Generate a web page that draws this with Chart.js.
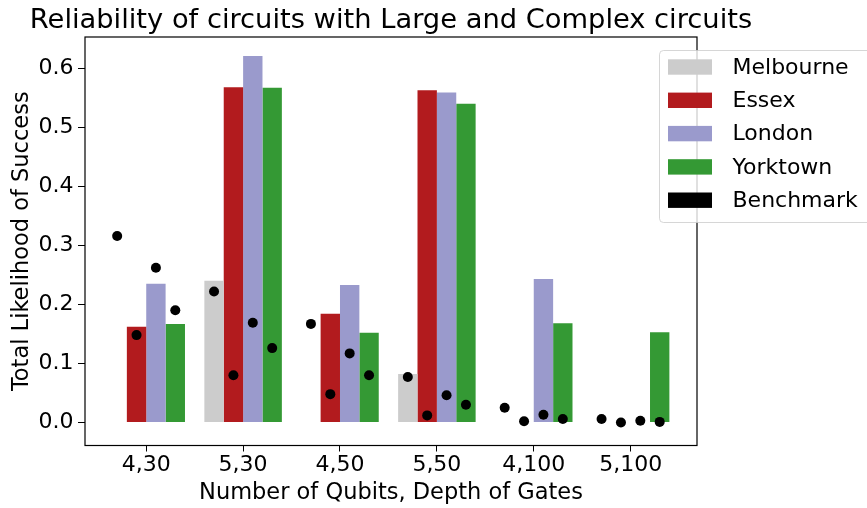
<!DOCTYPE html>
<html>
<head>
<meta charset="utf-8">
<script src="https://cdn.jsdelivr.net/npm/chart.js@4.4.0/dist/chart.umd.min.js"></script>
<style>
  html, body { margin: 0; padding: 0; background: #fff; }
</style>
</head>
<body>
<canvas id="chart" width="867" height="508"></canvas>
<script>
/* ---------- DATA ---------- */
const categories = ["4,30", "5,30", "4,50", "5,50", "4,100", "5,100"];
const machines = ["Melbourne", "Essex", "London", "Yorktown"];

// success likelihood per machine
const melbourne = [0, 0.240, 0, 0.082, 0, 0];
const essex = [0.162, 0.568, 0.184, 0.563, 0, 0];
const london = [0.235, 0.621, 0.233, 0.559, 0.243, 0];
const yorktown = [0.167, 0.567, 0.152, 0.540, 0.168, 0.153];

// benchmark dot per machine, same order as above
const benchMelbourne = [0.316, 0.222, 0.167, 0.077, 0.025, 0.006];
const benchEssex = [0.148, 0.080, 0.048, 0.012, 0.002, 0.000];
const benchLondon = [0.262, 0.169, 0.117, 0.046, 0.013, 0.003];
const benchYorktown = [0.190, 0.126, 0.080, 0.030, 0.006, 0.001];

const yTicks = [0, 0.1, 0.2, 0.3, 0.4, 0.5, 0.6];

const machineValues = [melbourne, essex, london, yorktown];
const benchValues = [benchMelbourne, benchEssex, benchLondon, benchYorktown];
const colors = ["#cccccc", "#b21b1e", "#9a9acc", "#349934"];

const TITLE = "Reliability of circuits with Large and Complex circuits";
const FONT = "'DejaVu Sans', sans-serif";
const groupWidth = 0.8;
const slot = groupWidth / machines.length;
const slotOffset = (s) => (s - (machines.length - 1) / 2) * slot;

/* ---------- DATASETS ---------- */
const barSets = machines.map((name, s) => ({
  type: "bar",
  label: name,
  data: machineValues[s].map((v, i) => ({ x: i, y: v })),
  backgroundColor: colors[s],
  borderWidth: 0,
  order: 1,
}));

const benchPoints = [];
benchValues.forEach((vals, s) => {
  vals.forEach((v, i) => benchPoints.push({ x: i + slotOffset(s), y: v }));
});

const benchSet = {
  type: "scatter",
  label: "Benchmark",
  data: benchPoints,
  backgroundColor: "#000",
  borderWidth: 0,
  pointRadius: 5,
  order: 0,
};

/* ---------- PLUGINS ---------- */
// axes frame + title centred over the plot area (like matplotlib)
const frame = {
  id: "frame",
  afterDatasetsDraw(chart) {
    const { ctx, chartArea: a } = chart;
    ctx.save();
    ctx.strokeStyle = "#000";
    ctx.lineWidth = 1.2;
    ctx.strokeRect(a.left, a.top, a.right - a.left, a.bottom - a.top);
    ctx.font = "27.3px " + FONT;
    ctx.fillStyle = "#000";
    ctx.textAlign = "center";
    ctx.textBaseline = "alphabetic";
    ctx.fillText(TITLE, (a.left + a.right) / 2, a.top - 8.7);
    ctx.restore();
  },
};

const legendBox = {
  id: "legendBox",
  afterDraw(chart) {
    const { ctx, chartArea: a } = chart;
    const items = chart.data.datasets
      .filter((d) => d.type === "bar")
      .concat(chart.data.datasets.filter((d) => d.type === "scatter"));
    const x0 = a.right - 38, y0 = a.top + 13;
    ctx.save();
    ctx.beginPath();
    ctx.roundRect(x0 + 0.5, y0 + 0.5, 240, 172, 4);
    ctx.fillStyle = "rgba(255,255,255,0.8)";
    ctx.fill();
    ctx.strokeStyle = "rgba(204,204,204,0.8)";
    ctx.lineWidth = 1;
    ctx.stroke();
    ctx.font = "22px " + FONT;
    ctx.textBaseline = "middle";
    ctx.textAlign = "left";
    items.forEach((d, k) => {
      const cy = y0 + 17 + k * 33.3;
      ctx.fillStyle = d.backgroundColor;
      ctx.fillRect(x0 + 9, cy - 7.7, 44, 15.4);
      ctx.fillStyle = "#000";
      ctx.fillText(d.label, x0 + 73.5, cy + 1);
    });
    ctx.restore();
  },
};

/* ---------- CHART ---------- */
new Chart(document.getElementById("chart"), {
  type: "bar",
  data: { datasets: [...barSets, benchSet] },
  options: {
    responsive: false,
    animation: false,
    events: [],
    layout: { padding: { left: 0, right: 170, top: 37, bottom: 0 } },
    datasets: {
      bar: { categoryPercentage: groupWidth, barPercentage: 1.0, grouped: true },
    },
    plugins: {
      legend: { display: false },
      tooltip: { enabled: false },
      title: { display: false },
    },
    scales: {
      x: {
        type: "linear",
        min: -0.632,
        max: 5.685,
        offset: false,
        afterBuildTicks: (scale) => {
          scale.ticks = categories.map((c, i) => ({ value: i }));
        },
        afterFit: (scale) => {
          scale.height = 62.5;
        },
        ticks: {
          autoSkip: false,
          maxRotation: 0,
          color: "#000",
          padding: 1,
          font: { family: FONT, size: 22 },
          callback: (v) => categories[v],
        },
        grid: { offset: false, drawOnChartArea: false, drawTicks: true, tickLength: 6, color: "#000" },
        border: { display: false },
        title: {
          display: true,
          text: "Number of Qubits, Depth of Gates",
          color: "#000",
          font: { family: FONT, size: 22.5 },
          padding: { top: 0, bottom: 1.5 },
        },
      },
      y: {
        min: -0.039,
        max: 0.653,
        afterBuildTicks: (scale) => {
          scale.ticks = yTicks.map((v) => ({ value: v }));
        },
        afterFit: (scale) => {
          scale.width = 85;
        },
        ticks: {
          color: "#000",
          padding: 4.5,
          font: { family: FONT, size: 22 },
          callback: (v) => v.toFixed(1),
        },
        grid: { drawOnChartArea: false, drawTicks: true, tickLength: 7, color: "#000" },
        border: { display: false },
        title: {
          display: true,
          text: "Total Likelihood of Success",
          color: "#000",
          font: { family: FONT, size: 22.5 },
          padding: { top: 8.7, bottom: 0 },
        },
      },
    },
  },
  plugins: [frame, legendBox],
});
</script>
</body>
</html>
